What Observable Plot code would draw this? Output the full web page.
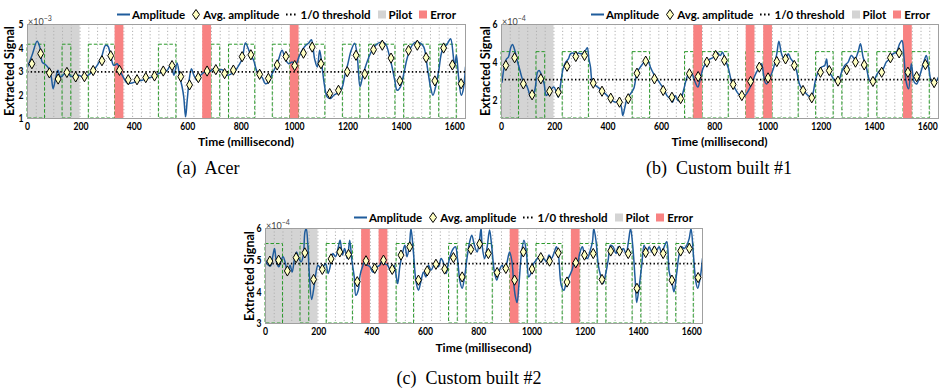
<!DOCTYPE html>
<html><head><meta charset="utf-8">
<script src="https://cdn.jsdelivr.net/npm/d3@7"></script>
<script src="https://cdn.jsdelivr.net/npm/@observablehq/plot@0.6"></script>
<style>
body{margin:0;background:#fff;}
#wrap{position:relative;width:941px;height:391px;overflow:hidden;font-family:Lato,"Open Sans",sans-serif;color:#000;}
.legend{position:absolute;font-weight:bold;font-size:11.5px;white-space:nowrap;display:flex;align-items:center;transform:translateY(-50%);}
.legend svg{margin-right:2px;}
.legend .lab{margin-right:6px;}
.caption{position:absolute;font-family:"Liberation Serif",serif;font-size:18px;white-space:pre;transform:translate(-50%,-50%);}
.ylab{position:absolute;font-weight:bold;font-size:12.5px;white-space:nowrap;transform:translate(-50%,-50%) rotate(-90deg);}
.xlab{position:absolute;font-weight:bold;font-size:12px;white-space:nowrap;transform:translate(-50%,-50%);}
.mult{position:absolute;font-size:9px;color:#444;white-space:nowrap;transform:translateY(-50%);}
.mult sup{font-size:7px;}
</style>
</head><body>
<div id="wrap"></div>
<script>
// ---------- shared structure ----------
const SYMBOL_MS = 32.8;          // one symbol
const N_SYMBOLS = 50;
const PILOT_SYMBOLS = 6;
const timeDomain = [0, 1640];
const xTicks = [0, 200, 400, 600, 800, 1000, 1200, 1400, 1600];
const legendLabels = ["Amplitude", "Avg. amplitude", "1/0 threshold", "Pilot", "Error"];
const xLabel = "Time (millisecond)";
const yLabel = "Extracted Signal";
// transmitted bit per symbol (green dashed square wave)
const sentBits = [1,1,0,0,1,0,0,1,1,1,0,0,0,0,0,1,1,0,0,0,0,1,0,1,1,1,0,0,1,1,0,1,1,1,0,0,1,1,0,1,1,1,0,1,1,1,0,1,1,0];

// ---------- (a) Acer  (x10^-3) ----------
const aYDomain = [1, 5];
const aYTicks = [1, 2, 3, 4, 5];
const aThreshold = 2.98;
const aHigh = 4.14;
const aAvg = [3.33,3.76,2.94,2.68,2.96,2.77,2.78,3.04,3.46,3.67,3.05,2.65,2.65,2.74,2.81,3.02,3.25,2.78,2.43,2.74,
  3.02,3.08,2.91,3.06,3.63,3.71,2.88,2.71,3.28,3.64,3.25,3.78,4.04,3.33,2.06,2.20,2.99,3.69,2.89,3.93,
  4.12,3.57,2.60,3.90,4.12,3.59,2.60,4.00,3.28,2.48];
const aErrors = [10, 20, 30];
const aAmp = [[0,3.19],[17,3.69],[36,4.29],[46,4.04],[55,3.40],[67,3.30],[80,3.12],[89,2.77],[96,2.27],[105,2.70],
  [114,3.05],[124,2.77],[136,2.88],[149,3.05],[161,2.80],[176,2.80],[192,2.84],[211,2.74],[226,2.84],[242,2.98],
  [261,3.26],[277,3.61],[292,4.11],[301,4.08],[311,3.69],[323,3.26],[336,3.33],[346,3.05],[358,2.77],[373,2.51],
  [392,2.51],[411,2.60],[429,2.63],[448,2.70],[467,2.77],[485,2.88],[504,2.98],[523,3.05],[538,3.33],[548,2.84],
  [560,3.36],[570,2.77],[579,2.34],[585,1.92],[592,1.07],[598,1.78],[607,2.77],[614,3.12],[623,2.84],[635,2.63],
  [648,2.84],[663,2.98],[679,2.98],[698,3.12],[713,3.05],[729,3.08],[745,2.84],[760,2.88],[779,3.05],[791,3.26],
  [804,3.54],[816,4.21],[829,3.90],[837,3.69],[847,3.47],[860,2.98],[879,2.74],[891,2.48],[904,2.55],[916,2.91],
  [929,3.19],[941,3.54],[953,3.90],[966,3.50],[978,3.33],[991,3.40],[1003,3.26],[1016,3.61],[1028,3.90],[1041,4.11],
  [1053,4.21],[1063,4.35],[1075,3.54],[1085,3.19],[1094,3.90],[1103,3.19],[1112,2.41],[1122,1.92],[1134,1.85],[1147,1.99],
  [1166,2.13],[1178,2.31],[1187,2.77],[1199,3.30],[1212,3.90],[1225,4.20],[1235,3.60],[1245,2.35],[1255,2.80],[1265,3.19],
  [1278,3.61],[1290,3.90],[1303,4.11],[1322,4.25],[1340,4.18],[1353,3.76],[1365,3.19],[1375,2.63],[1384,2.20],[1396,2.34],
  [1409,2.91],[1421,3.54],[1436,4.04],[1453,4.25],[1471,4.21],[1484,4.04],[1497,3.19],[1509,2.34],[1518,1.99],[1528,2.34],
  [1540,3.05],[1553,3.90],[1572,4.18],[1584,4.39],[1594,3.69],[1599,3.19],[1606,3.69],[1614,2.77],[1624,1.99],[1631,2.20],[1640,3.19]];

// ---------- (b) Custom built #1  (x10^-4) ----------
const bYDomain = [1, 6];
const bYTicks = [2, 4, 6];
const bThreshold = 3.07;
const bHigh = 4.53;
const bAvg = [3.82,4.23,2.84,2.26,3.11,2.45,2.40,3.78,4.30,4.35,2.88,2.45,2.08,1.87,2.05,3.41,4.05,3.11,2.49,2.13,
  2.06,3.38,3.23,4.00,4.35,4.09,2.81,2.22,2.97,3.73,3.16,4.03,4.17,3.82,2.49,2.10,3.46,3.55,2.99,3.59,
  4.00,3.85,2.97,3.46,4.23,4.49,3.46,3.23,3.87,2.91];
const bErrors = [22, 28, 30, 46];
const bAmp = [[2,2.93],[10,3.73],[19,4.17],[26,4.26],[35,4.79],[41,4.94],[50,4.62],[57,4.17],[66,3.73],[76,3.20],
  [85,2.84],[94,2.76],[101,2.49],[110,2.13],[118,2.22],[126,2.58],[135,3.46],[141,3.55],[151,3.29],[160,2.84],
  [168,2.22],[178,2.40],[188,2.58],[197,2.67],[206,2.40],[213,2.13],[222,2.84],[231,3.64],[241,4.00],[251,4.17],
  [259,4.44],[268,4.48],[278,4.40],[288,4.48],[297,4.44],[307,4.48],[315,4.62],[322,4.76],[328,4.17],[334,3.73],
  [340,3.02],[353,2.76],[365,2.63],[378,2.45],[390,2.31],[403,2.13],[415,1.96],[428,1.87],[440,1.96],[450,1.60],
  [455,1.16],[463,1.60],[471,2.05],[484,2.31],[496,2.58],[509,3.46],[521,3.73],[534,4.00],[540,4.17],[552,4.00],
  [559,3.73],[571,3.38],[584,3.11],[596,2.84],[609,2.58],[621,2.22],[633,2.05],[642,1.87],[652,2.22],[662,1.96],
  [671,1.96],[683,2.49],[696,3.20],[705,3.46],[715,3.38],[727,2.93],[737,2.67],[746,3.11],[758,3.73],[771,4.00],
  [783,4.17],[796,4.26],[808,4.53],[821,4.35],[829,4.53],[839,4.17],[852,3.64],[864,2.93],[877,2.58],[889,2.31],
  [902,2.13],[914,2.22],[927,2.49],[939,2.84],[951,3.29],[964,3.64],[976,3.91],[983,3.38],[989,2.93],[995,2.84],
  [1008,3.20],[1020,3.64],[1033,4.44],[1041,5.11],[1051,4.44],[1061,4.17],[1070,4.26],[1076,4.44],[1086,4.17],[1095,4.00],
  [1107,3.55],[1120,2.76],[1139,2.40],[1151,2.22],[1163,2.13],[1170,2.40],[1178,3.02],[1188,3.46],[1201,3.73],[1213,3.82],
  [1220,4.17],[1226,3.55],[1238,3.29],[1251,3.02],[1263,2.93],[1276,3.46],[1288,3.82],[1301,4.00],[1313,4.35],[1326,4.17],
  [1338,4.53],[1347,4.97],[1357,4.26],[1369,3.73],[1382,3.02],[1394,2.93],[1407,3.29],[1419,3.55],[1432,3.64],[1444,4.00],
  [1457,4.17],[1469,4.44],[1482,4.53],[1494,4.97],[1503,5.15],[1510,4.35],[1519,2.93],[1528,2.58],[1538,3.91],[1549,2.93],
  [1558,2.84],[1570,3.29],[1583,3.91],[1594,4.35],[1603,3.73],[1615,2.93],[1628,2.93],[1640,3.20]];

// ---------- (c) Custom built #2  (x10^-4) ----------
const cYDomain = [3, 6];
const cYTicks = [3, 4, 5, 6];
const cThreshold = 4.89;
const cHigh = 5.51;
const cAvg = [4.97,5.00,4.66,5.08,5.23,4.39,4.71,5.04,5.26,5.18,4.32,4.98,4.74,5.00,4.71,5.16,5.42,4.37,4.66,4.87,
  4.72,5.08,4.47,5.34,5.51,5.21,4.61,4.74,4.37,5.26,4.72,5.08,4.97,5.23,4.31,4.92,5.16,5.21,4.39,5.29,
  5.29,5.21,4.11,5.24,5.29,5.21,4.37,5.29,5.37,4.45];
const cErrors = [11, 13, 28, 35];
const cAmp = [[0,5.00],[9,4.86],[19,4.82],[28,5.16],[34,5.37],[41,4.95],[50,4.79],[59,5.00],[66,5.11],[75,4.89],
  [82,4.58],[92,4.84],[100,4.63],[109,5.05],[117,5.26],[125,5.05],[134,4.95],[142,5.16],[148,5.89],[153,6.00],
  [159,5.47],[164,4.63],[173,3.76],[182,4.16],[188,4.53],[197,4.84],[207,4.74],[216,4.79],[226,4.89],[235,4.58],
  [245,4.89],[253,5.21],[263,5.11],[272,5.37],[280,5.63],[289,5.16],[297,5.37],[307,5.05],[316,5.63],[324,5.00],
  [333,4.47],[339,3.89],[348,4.05],[355,4.53],[364,4.79],[373,4.95],[383,4.84],[392,4.79],[402,4.63],[410,4.63],
  [420,4.79],[429,4.84],[439,5.00],[448,4.89],[458,4.84],[468,4.68],[477,4.63],[483,4.84],[489,4.58],[496,4.26],
  [504,4.79],[514,5.21],[523,5.47],[531,5.11],[540,5.47],[546,6.00],[555,5.26],[565,4.32],[574,4.05],[583,4.32],
  [593,4.63],[602,4.47],[612,4.84],[621,4.68],[631,4.84],[640,4.95],[649,4.79],[659,5.05],[669,4.89],[678,4.58],
  [686,4.89],[696,5.21],[705,5.37],[713,5.42],[721,5.00],[730,4.32],[738,4.11],[747,4.47],[757,5.11],[765,5.53],
  [774,5.79],[784,5.47],[794,5.26],[803,5.63],[809,6.00],[813,5.47],[822,5.05],[831,5.37],[841,5.95],[849,5.42],
  [859,4.63],[868,4.37],[878,4.68],[888,4.84],[898,4.68],[907,4.95],[916,5.26],[925,4.95],[931,4.32],[937,3.89],
  [944,3.66],[951,4.21],[960,5.16],[970,5.63],[979,5.26],[988,4.47],[998,4.63],[1006,4.89],[1016,5.00],[1026,5.11],
  [1035,4.95],[1044,5.05],[1054,4.95],[1064,5.16],[1073,5.05],[1082,5.21],[1092,5.42],[1100,5.11],[1110,4.21],[1120,4.05],
  [1129,4.32],[1139,4.47],[1150,4.68],[1160,4.95],[1169,4.84],[1179,5.21],[1189,5.42],[1198,5.16],[1208,5.05],[1217,5.26],
  [1227,5.58],[1232,6.00],[1240,5.63],[1249,4.84],[1257,4.53],[1267,4.26],[1277,4.58],[1286,5.00],[1295,5.47],[1305,5.42],
  [1315,5.21],[1324,5.42],[1333,5.26],[1343,5.37],[1353,5.21],[1362,5.58],[1370,6.00],[1378,5.47],[1387,4.42],[1393,3.66],
  [1403,4.21],[1412,4.84],[1421,5.47],[1431,5.26],[1440,5.42],[1450,5.26],[1458,5.42],[1468,5.32],[1477,5.42],[1487,5.21],
  [1496,5.42],[1506,5.58],[1515,4.63],[1525,4.32],[1533,4.00],[1543,4.58],[1552,5.16],[1562,5.42],[1571,5.37],[1581,5.47],
  [1590,5.68],[1597,6.00],[1606,5.16],[1615,4.32],[1622,4.11],[1631,4.42],[1640,5.05]];

// ---------- colours ----------
const COL = {amp:"#1f5c9c", fill:"#ffffc2", pilot:"#d4d4d4", error:"#f88282", green:"#2b9a2b", grid:"#b0b0b0", frame:"#a0a0a0"};

function runsOf(bits){
  const out=[]; let s=null;
  bits.forEach((b,i)=>{ if(b&&s===null) s=i; if(!b&&s!==null){ out.push({x1:s*SYMBOL_MS,x2:i*SYMBOL_MS}); s=null; } });
  if(s!==null) out.push({x1:s*SYMBOL_MS,x2:bits.length*SYMBOL_MS});
  return out;
}

function makePanel(cfg){
  const [y0,y1] = cfg.yDomain;
  const bounds = d3.range(1, N_SYMBOLS).map(i=>i*SYMBOL_MS);
  const avg = cfg.avg.map((v,i)=>({t:(i+0.5)*SYMBOL_MS, v}));
  const amp = cfg.amp.map(([t,v])=>({t,v}));
  const errs = cfg.errors.map(i=>({x1:i*SYMBOL_MS, x2:(i+1)*SYMBOL_MS}));
  const runs = runsOf(sentBits);
  return Plot.plot({
    width: cfg.width, height: cfg.height,
    marginLeft: cfg.ml, marginRight: cfg.mr, marginTop: cfg.mt, marginBottom: cfg.mb,
    style: {fontFamily:"Lato, 'Open Sans', sans-serif", fontSize:"12px", fontWeight:"bold", color:"#000", background:"transparent", overflow:"visible"},
    x: {domain: timeDomain, ticks: xTicks, tickFormat: d3.format("d"), tickSize: 0, tickPadding: 3, label: null},
    y: {domain: cfg.yDomain, ticks: cfg.yTicks, tickFormat: d3.format("d"), tickSize: 0, tickPadding: 4, label: null},
    marks: [
      Plot.rect([{x1:0, x2:PILOT_SYMBOLS*SYMBOL_MS}], {x1:"x1", x2:"x2", y1:y0, y2:y1, fill:COL.pilot}),
      Plot.ruleX(bounds, {stroke:COL.grid, strokeWidth:1, strokeDasharray:"1.2,2.2"}),
      Plot.rect(runs, {x1:"x1", x2:"x2", y1:y0, y2:cfg.high, fill:"none", stroke:COL.green, strokeWidth:1, strokeDasharray:"3.5,2"}),
      Plot.rect(errs, {x1:"x1", x2:"x2", y1:y0, y2:y1, fill:COL.error}),
      Plot.line(amp, {x:"t", y:"v", stroke:COL.amp, strokeWidth:1.5, curve:"catmull-rom", clip:true}),
      Plot.ruleY([cfg.threshold], {stroke:"#000", strokeWidth:1.7, strokeDasharray:"1.4,2.3"}),
      Plot.dot(avg, {x:"t", y:"v", symbol:"diamond", r:3.1, fill:COL.fill, stroke:"#000", strokeWidth:1}),
      Plot.frame({stroke:COL.frame})
    ]
  });
}

const wrap = document.getElementById("wrap");
function place(el, left, top){ el.style.position="absolute"; el.style.left=left+"px"; el.style.top=top+"px"; wrap.appendChild(el); return el; }
function div(cls, html, style){ const d=document.createElement("div"); d.className=cls; d.innerHTML=html; Object.assign(d.style, style); wrap.appendChild(d); return d; }

// narrow the tick labels horizontally, like the condensed face of the original
function condense(svg, k){
  svg.querySelectorAll("text").forEach(t=>{
    const tr = t.getAttribute("transform") || "";
    t.setAttribute("transform", (tr + ` scale(${k},1)`).trim());
  });
}

function legend(right, cy){
  const sw = {
    line:`<svg width="13" height="10"><line x1="0" x2="13" y1="5" y2="5" stroke="${COL.amp}" stroke-width="2"/></svg>`,
    diamond:`<svg width="10" height="12"><path d="M5,1 L8.5,6 L5,11 L1.5,6 Z" fill="${COL.fill}" stroke="#000" stroke-width="1"/></svg>`,
    dots:`<svg width="13" height="10"><line x1="1" x2="13" y1="5" y2="5" stroke="#000" stroke-width="1.8" stroke-dasharray="1.6,2.4"/></svg>`,
    pilot:`<svg width="10" height="10"><rect x="1" y="1" width="8" height="8" fill="${COL.pilot}"/></svg>`,
    error:`<svg width="10" height="10"><rect x="1" y="1" width="8" height="8" fill="${COL.error}"/></svg>`
  };
  const keys = ["line","diamond","dots","pilot","error"];
  const html = keys.map((k,i)=>`${sw[k]}<span class="lab">${legendLabels[i]}</span>`).join("");
  return div("legend", html, {right:(941-right)+"px", top:cy+"px"});
}

const panels = [
  {id:"a", avg:aAvg, amp:aAmp, errors:aErrors, yDomain:aYDomain, yTicks:aYTicks, threshold:aThreshold, high:aHigh,
   left:0, top:0, width:470, height:145, ml:27, mr:5, mt:24, mb:27, exp:"−3",
   legendRight:462, legendY:14, ylabX:9, ylabY:71, xlabY:141, capX:208, capY:168, caption:"(a)  Acer"},
  {id:"b", avg:bAvg, amp:bAmp, errors:bErrors, yDomain:bYDomain, yTicks:bYTicks, threshold:bThreshold, high:bHigh,
   left:470, top:0, width:471, height:145, ml:31, mr:3, mt:24, mb:27, exp:"−4",
   legendRight:936, legendY:14, ylabX:485, ylabY:71, xlabY:141, capX:719, capY:168, caption:"(b)  Custom built #1"},
  {id:"c", avg:cAvg, amp:cAmp, errors:cErrors, yDomain:cYDomain, yTicks:cYTicks, threshold:cThreshold, high:cHigh,
   left:230, top:205, width:480, height:145, ml:35, mr:8, mt:23, mb:27, exp:"−4",
   legendRight:699, legendY:217, ylabX:249, ylabY:276, xlabY:347, capX:469, capY:378, caption:"(c)  Custom built #2"}
];

for(const p of panels){
  const svg = makePanel(p);
  place(svg, p.left, p.top);
  condense(svg, 0.72);
  const fx0 = p.left + p.ml, fx1 = p.left + p.width - p.mr;
  div("mult", `×10<sup>${p.exp}</sup>`, {left:(fx0+1)+"px", top:(p.top+p.mt-4)+"px"});
  legend(p.legendRight, p.legendY);
  div("ylab", yLabel, {left:p.ylabX+"px", top:p.ylabY+"px"});
  div("xlab", xLabel, {left:((fx0+fx1)/2)+"px", top:p.xlabY+"px"});
  div("caption", p.caption, {left:p.capX+"px", top:p.capY+"px"});
}
</script>
</body></html>
